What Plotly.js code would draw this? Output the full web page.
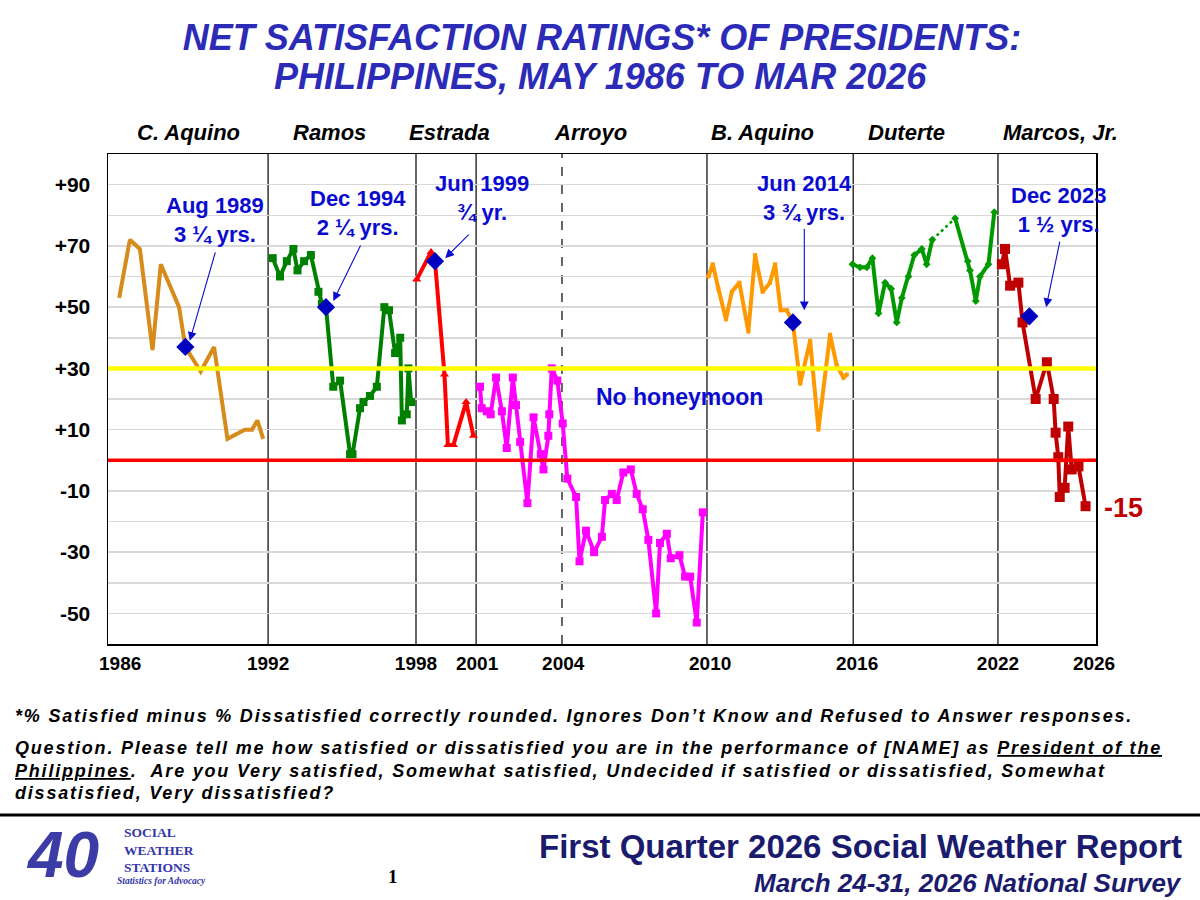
<!DOCTYPE html>
<html>
<head>
<meta charset="utf-8">
<script src="https://cdn.plot.ly/plotly-3.0.1.min.js"></script>
<style>
html,body{margin:0;padding:0;background:#fff;}
#chart{width:1200px;height:900px;}
</style>
</head>
<body>
<div id="chart"></div>
<script>
// ---------------- DATA ----------------
const cAquinoX = [1985.88,1986.32,1986.73,1987.25,1987.59,1988.34,1988.60,1989.23,1989.78,1990.33,1991.04,1991.34,1991.56,1991.80];
const cAquinoY = [53,72,69,36,64,50,37,29,37,7,10,10,13,7];

const ramosX = [1992.19,1992.49,1992.77,1993.04,1993.21,1993.48,1993.76,1994.07,1994.21,1994.38,1994.68,1994.96,1995.37,1995.47,1995.78,1995.92,1996.19,1996.47,1996.78,1996.97,1997.22,1997.43,1997.50,1997.70,1997.77,1997.88];
const ramosY = [66,60,65,69,62,65,67,55,51,50,24,26,2,2,17,19,21,24,50,49,35,40,13,15,30,19];

const estradaX = [1998.11,1998.70,1998.86,1999.25,1999.39,1999.62,2000.14,2000.44];
const estradaY = [59,68,65,28,5,5,19,8];

const arroyoX = [2000.71,2000.78,2000.99,2001.15,2001.37,2001.61,2001.81,2002.06,2002.19,2002.36,2002.66,2002.91,2003.21,2003.32,2003.52,2003.56,2003.66,2003.89,2004.11,2004.30,2004.66,2004.80,2005.07,2005.40,2005.72,2005.85,2006.13,2006.33,2006.60,2006.91,2007.15,2007.40,2007.63,2007.95,2008.11,2008.39,2008.55,2008.91,2009.14,2009.35,2009.62,2009.87];
const arroyoY = [24,17,16,15,27,16,4,27,18,6,-14,14,2,-3,8,15,30,26,12,-6,-12,-33,-23,-30,-25,-13,-11,-13,-4,-3,-11,-16,-26,-50,-27,-24,-32,-31,-38,-38,-53,-17];

const bAquinoX = [2010.10,2010.28,2010.51,2010.82,2011.06,2011.37,2011.74,2012.02,2012.33,2012.63,2012.84,2013.07,2013.32,2013.57,2013.87,2014.28,2014.62,2015.10,2015.37,2015.65,2015.79];
const bAquinoY = [60,64,56,46,55,58,42,67,55,58,64,49,49,45,25,39,10,41,31,27,28];

const duterte1X = [2016.02,2016.33,2016.61,2016.84,2017.09,2017.36,2017.61,2017.84,2018.05,2018.32,2018.56,2018.87,2019.07,2019.30];
const duterte1Y = [64,63,63,66,48,58,56,45,53,60,67,69,64,72];
const duterte2X = [2020.24,2020.76,2020.85,2021.09,2021.26,2021.61,2021.85];
const duterte2Y = [79,65,62,52,60,64,81];

const marcosX = [2022.16,2022.29,2022.50,2022.84,2023.01,2023.55,2024.01,2024.29,2024.37,2024.48,2024.54,2024.74,2024.89,2025.03,2025.31,2025.60];
const marcosY = [64,69,57,58,45,20,32,20,9,1,-12,-9,11,-3,-2,-15];

// end of honeymoon points (blue diamonds)
const honeymoonX = [1988.60,1994.38,1998.86,2013.57,2023.29];
const honeymoonY = [37,50,65,45,47];
const honeymoonLabel = ['Aug 1989<br>3 ¼ yrs.','Dec 1994<br>2 ¼ yrs.','Jun 1999<br>¾ yr.','Jun 2014<br>3 ¾ yrs.','Dec 2023<br>1 ½ yrs.'];

const presidents = ['C. Aquino','Ramos','Estrada','Arroyo','B. Aquino','Duterte','Marcos, Jr.'];
const termStarts = [1992.0,1998.08,2000.55,2010.04,2016.05,2022.0];
const arroyoSecondTerm = 2004.08;

const xTickVals = [1985.92,1992.0,1998.08,2000.59,2004.13,2010.17,2016.21,2022.0,2025.95];
const xTickText = ['1986','1992','1998','2001','2004','2010','2016','2022','2026'];
const yTickVals = [-60,-50,-40,-30,-20,-10,0,10,20,30,40,50,60,70,80,90,100];
const yTickText = ['','-50','','-30','','-10','','+10','','+30','','+50','','+70','','+90',''];

const latestValue = '-15';
// ----------------------------------------------------------------

const FONT = 'Liberation Sans, Arial, sans-serif';
const SERIF = 'Liberation Serif, Times New Roman, serif';
const BLUE = '#0a0ad0';
const TITLE_BLUE = '#2B2BB8';

// plot area in pixels (for placing text outside the plot)
const L = 108, R = 1096, T = 154, B = 644;
const px = x => (x - L) / (R - L);
const py = y => (B - y) / (B - T);

function line(x, y, color, width, marker) {
  return {type:'scatter', mode: marker ? 'lines+markers' : 'lines', x:x, y:y,
          line:{color:color, width:width}, marker: marker || {}, hoverinfo:'skip', showlegend:false};
}

const traces = [
  line(cAquinoX, cAquinoY, '#D68B1A', 4),
  line(ramosX, ramosY, '#008000', 4, {symbol:'square', size:8, color:'#008000'}),
  line(estradaX, estradaY, '#FF0000', 4, {symbol:'triangle-up', size:8, color:'#FF0000'}),
  line(arroyoX, arroyoY, '#FF00FF', 4, {symbol:'square', size:8, color:'#FF00FF'}),
  line(bAquinoX, bAquinoY, '#FF9900', 4, {symbol:'square', size:4, color:'#FF9900'}),
  line(duterte1X, duterte1Y, '#009900', 4, {symbol:'diamond', size:6, color:'#009900'}),
  {type:'scatter', mode:'lines', x:[duterte1X[duterte1X.length-1], duterte2X[0]],
   y:[duterte1Y[duterte1Y.length-1], duterte2Y[0]], line:{color:'#009900', width:2.5, dash:'dot'},
   hoverinfo:'skip', showlegend:false},
  line(duterte2X, duterte2Y, '#009900', 4, {symbol:'diamond', size:6, color:'#009900'}),
  line(marcosX, marcosY, '#C00000', 4, {symbol:'square', size:10, color:'#C00000'}),
  {type:'scatter', mode:'markers', x:honeymoonX, y:honeymoonY,
   marker:{symbol:'diamond', size:14, color:'#0000C0'}, hoverinfo:'skip', showlegend:false}
];

const shapes = [];
termStarts.forEach(v => shapes.push({type:'line', xref:'x', yref:'paper', x0:v, x1:v, y0:0, y1:1,
  line:{color:'#000', width:1.2}, layer:'below'}));
shapes.push({type:'line', xref:'x', yref:'paper', x0:arroyoSecondTerm, x1:arroyoSecondTerm, y0:0, y1:1,
  line:{color:'#000', width:1.2, dash:'dash'}, layer:'below'});
shapes.push({type:'line', xref:'paper', yref:'y', x0:0, x1:1, y0:30, y1:30, line:{color:'#FFFF00', width:4.5}, layer:'above'});
shapes.push({type:'line', xref:'paper', yref:'y', x0:0, x1:1, y0:0, y1:0, line:{color:'#FF0000', width:3.5}, layer:'above'});
// footer rule
shapes.push({type:'line', xref:'paper', yref:'paper', x0:px(0), x1:px(1200), y0:py(815), y1:py(815), line:{color:'#000', width:3}});

const ann = [];
// second title line
ann.push({xref:'paper', yref:'paper', x:px(600), y:py(77), text:'<b><i>PHILIPPINES, MAY 1986 TO MAR 2026</i></b>',
  showarrow:false, xanchor:'center', yanchor:'middle', font:{family:FONT, size:36, color:TITLE_BLUE}});

// president names
const presCenters = [188,329,449,590,762,906,1060];
presidents.forEach((p,i) => ann.push({xref:'paper', yref:'paper', x:px(presCenters[i]), y:py(133),
  text:'<b><i>'+p+'</i></b>', showarrow:false, xanchor:'center', yanchor:'middle',
  font:{family:FONT, size:22, color:'#000'}}));

// honeymoon labels
const labelPos = [[215,220],[358,213],[482,198],[804,198],[1058,210]];
honeymoonLabel.forEach((t,i) => ann.push({xref:'paper', yref:'paper', x:px(labelPos[i][0]), y:py(labelPos[i][1]),
  text:'<b>'+t+'</b>', showarrow:false, xanchor:'center', yanchor:'middle',
  font:{family:FONT, size:22, color:BLUE}}));

// arrows (head near each diamond)
const arrowHead = [[1988.78,39],[1994.68,52],[1999.28,66],[2014.04,49],[2023.98,50]];
const arrowTail = [[26,-90],[28,-57],[25,-25],[0,-83],[14,-67]];
arrowHead.forEach((h,i) => ann.push({xref:'x', yref:'y', x:h[0], y:h[1], ax:arrowTail[i][0], ay:arrowTail[i][1],
  text:'', showarrow:true, arrowhead:2, arrowsize:1.6, arrowwidth:1.1, arrowcolor:BLUE}));

ann.push({xref:'paper', yref:'paper', x:px(679), y:py(397), text:'<b>No honeymoon</b>', showarrow:false,
  xanchor:'center', yanchor:'middle', font:{family:FONT, size:23, color:BLUE}});

ann.push({xref:'paper', yref:'paper', x:px(1123), y:py(508), text:'<b>'+latestValue+'</b>', showarrow:false,
  xanchor:'center', yanchor:'middle', font:{family:FONT, size:27, color:'#C00000'}});

// footnotes
const fn = [
  [716, '*% Satisfied minus % Dissatisfied correctly rounded. Ignores Don’t Know and Refused to Answer responses.'],
  [748, 'Question. Please tell me how satisfied or dissatisfied you are in the performance of [NAME] as <u>President of the</u>'],
  [771, '<u>Philippines</u>.  Are you Very satisfied, Somewhat satisfied, Undecided if satisfied or dissatisfied, Somewhat'],
  [793, 'dissatisfied, Very dissatisfied?']
];
fn.forEach(f => ann.push({xref:'paper', yref:'paper', x:px(13), y:py(f[0]),
  text:'<span style="letter-spacing:1.8px"><b><i>'+f[1]+'</i></b></span>',
  showarrow:false, xanchor:'left', yanchor:'middle', font:{family:FONT, size:18, color:'#000'}}));

// footer
ann.push({xref:'paper', yref:'paper', x:px(1184), y:py(846), text:'<b>First Quarter 2026 Social Weather Report</b>',
  showarrow:false, xanchor:'right', yanchor:'middle', font:{family:FONT, size:33, color:'#1B1B6E'}});
ann.push({xref:'paper', yref:'paper', x:px(1184), y:py(883), text:'<b><i>March 24-31, 2026 National Survey</i></b>',
  showarrow:false, xanchor:'right', yanchor:'middle', font:{family:FONT, size:26, color:'#1B1B6E'}});
ann.push({xref:'paper', yref:'paper', x:px(393), y:py(876), text:'<b>1</b>',
  showarrow:false, xanchor:'center', yanchor:'middle', font:{family:SERIF, size:19, color:'#000'}});

// logo (approximation with text)
ann.push({xref:'paper', yref:'paper', x:px(62), y:py(855), text:'<b><i>40</i></b>',
  showarrow:false, xanchor:'center', yanchor:'middle', font:{family:FONT, size:64, color:'#3C3CA6'}});
ann.push({xref:'paper', yref:'paper', x:px(122), y:py(850), text:'<b>SOCIAL<br>WEATHER<br>STATIONS</b>',
  showarrow:false, xanchor:'left', yanchor:'middle', align:'left', font:{family:SERIF, size:13.5, color:'#3535A8'}});
ann.push({xref:'paper', yref:'paper', x:px(115), y:py(881), text:'<b><i>Statistics for Advocacy</i></b>',
  showarrow:false, xanchor:'left', yanchor:'middle', font:{family:SERIF, size:9.5, color:'#3535A8'}});

const layout = {
  width:1200, height:900,
  margin:{l:L, r:1200-R, t:T, b:900-B, pad:0},
  paper_bgcolor:'#fff', plot_bgcolor:'#fff',
  title:{text:'<b><i>NET SATISFACTION RATINGS* OF PRESIDENTS:</i></b>',
         x:0.5, xanchor:'center', xref:'paper', y:1-37/900, yanchor:'middle', yref:'container',
         font:{family:FONT, size:36, color:TITLE_BLUE}},
  xaxis:{range:[1985.42, 2026.03], tickmode:'array', tickvals:xTickVals, ticktext:xTickText.map(t=>'<b>'+t+'</b>'),
         showgrid:false, zeroline:false, showline:true, mirror:true, linecolor:'#000', linewidth:1.5,
         ticks:'outside', ticklen:2, tickcolor:'rgba(0,0,0,0)', tickfont:{family:FONT, size:19, color:'#000'}},
  yaxis:{range:[-60,100], tickmode:'array', tickvals:yTickVals, ticktext:yTickText.map(t=>t?'<b>'+t+'</b>':''),
         showgrid:true, gridcolor:'#d9d9d9', gridwidth:1.5, zeroline:false, showline:true, mirror:true,
         linecolor:'#000', linewidth:1.5, ticks:'outside', ticklen:12, tickcolor:'rgba(0,0,0,0)',
         tickfont:{family:FONT, size:21, color:'#000'}},
  shapes:shapes,
  annotations:ann,
  showlegend:false
};

Plotly.newPlot('chart', traces, layout, {displayModeBar:false, staticPlot:true});
</script>
</body>
</html>
